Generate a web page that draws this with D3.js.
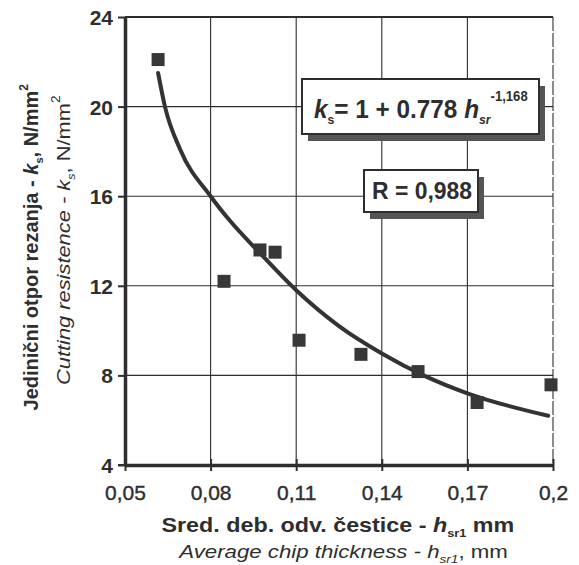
<!DOCTYPE html>
<html>
<head>
<meta charset="utf-8">
<script src="https://cdn.jsdelivr.net/npm/d3@7"></script>
<style>
  body { margin: 0; background: #fff; }
  text { font-family: "Liberation Sans Narrow", "Arial Narrow", "Liberation Sans", sans-serif; fill: #2e2e2e; }
</style>
</head>
<body>
<div class="chart"></div>
<script>
// measured points
let hValues = [0.0616, 0.0847, 0.0973, 0.1026, 0.111, 0.1327, 0.1527, 0.1734, 0.1993]
let ksValues = [22.1, 12.2, 13.6, 13.5, 9.57, 8.94, 8.17, 6.79, 7.58]

// fitted curve as drawn
let curveH = [0.0616, 0.064, 0.0693, 0.08, 0.0868, 0.097, 0.11, 0.125, 0.14, 0.155, 0.17, 0.1983]
let curveKs = [21.5, 20.0, 18.1, 16.0, 14.9, 13.5, 11.8, 10.2, 8.98, 7.98, 7.2, 6.2]

let xTicks = [0.05, 0.08, 0.11, 0.14, 0.17, 0.2]
let xTickLabels = ["0,05", "0,08", "0,11", "0,14", "0,17", "0,2"]
let yTicks = [4, 8, 12, 16, 20, 24]

let width = 579
let height = 565
let ink = "#2e2e2e"

let svg = d3.select(".chart")
  .append("svg")
  .attr("width", width)
  .attr("height", height)

let x = d3.scaleLinear().domain([0.05, 0.2]).range([125, 553])
let y = d3.scaleLinear().domain([4, 24]).range([465, 17])

// squeeze a text to a given width around a baseline midpoint
let fitText = (sel, cx, cy, w, rot) => {
  let bb = sel.node().getBBox()
  let k = w / bb.width
  sel.attr("transform",
    `translate(${cx},${cy}) rotate(${rot}) scale(${k},1) translate(${-(bb.x + bb.width / 2)},0)`)
}

// grid
svg.append("g")
  .selectAll("line")
  .data(yTicks.slice(1))
  .enter()
  .append("line")
  .attr("x1", x(0.05)).attr("x2", x(0.2))
  .attr("y1", d => y(d)).attr("y2", d => y(d))
  .attr("stroke", ink).attr("stroke-width", d => d === 24 ? 2 : 1.1)

svg.append("g")
  .selectAll("line")
  .data(xTicks.slice(1))
  .enter()
  .append("line")
  .attr("x1", d => x(d)).attr("x2", d => x(d))
  .attr("y1", y(24)).attr("y2", y(4))
  .attr("stroke", ink).attr("stroke-width", 1.1)
  .attr("stroke-dasharray", d => d === 0.2 ? "14,2" : null)

// axes
let yAxis = svg.append("g")
  .attr("transform", `translate(${x(0.05)},0)`)
  .call(d3.axisLeft(y).tickValues(yTicks).tickSize(7).tickSizeOuter(0).tickPadding(5))
yAxis.select(".domain").attr("stroke", ink).attr("stroke-width", 3.5)
yAxis.selectAll(".tick line").attr("stroke", ink).attr("stroke-width", 2)
yAxis.selectAll(".tick text")
  .attr("font-size", 21).attr("font-weight", "bold").attr("fill", ink)
  .attr("dy", "0.36em")

let xAxis = svg.append("g")
  .attr("transform", `translate(0,${y(4)})`)
  .call(d3.axisBottom(x).tickValues(xTicks).tickFormat((d, i) => xTickLabels[i])
    .tickSize(6).tickSizeOuter(0).tickPadding(14))
xAxis.select(".domain").attr("stroke", ink).attr("stroke-width", 3.5)
xAxis.selectAll(".tick line").attr("stroke", ink).attr("stroke-width", 2)
  .attr("y1", -6)
xAxis.selectAll(".tick text")
  .attr("font-size", 21).attr("fill", ink)
  .attr("stroke", ink).attr("stroke-width", 0.4)

// left axis line overhang
svg.append("line")
  .attr("x1", x(0.05) - 7).attr("x2", x(0.05))
  .attr("y1", y(4)).attr("y2", y(4))
  .attr("stroke", ink).attr("stroke-width", 2)

// fitted curve
let line = d3.line()
  .x((d, i) => x(curveH[i]))
  .y(d => y(d))
  .curve(d3.curveMonotoneX)

svg.append("path")
  .datum(curveKs)
  .attr("d", line)
  .attr("fill", "none")
  .attr("stroke", "#333")
  .attr("stroke-width", 4)
  .attr("stroke-linecap", "round")

// points
svg.append("g")
  .selectAll("rect")
  .data(ksValues)
  .enter()
  .append("rect")
  .attr("x", (d, i) => x(hValues[i]) - 6.5)
  .attr("y", d => y(d) - 6.5)
  .attr("width", 13)
  .attr("height", 13)
  .attr("fill", "#383838")

// boxes with shadow
let box = (x0, y0, w, h) => {
  svg.append("rect")
    .attr("x", x0 + 6).attr("y", y0 + 7).attr("width", w).attr("height", h)
    .attr("fill", "#555")
  svg.append("rect")
    .attr("x", x0).attr("y", y0).attr("width", w).attr("height", h)
    .attr("fill", "#fff").attr("stroke", ink).attr("stroke-width", 2)
}
box(302, 79, 237, 55)
box(364, 170, 114, 42)

let eq = svg.append("text")
  .attr("font-size", 26).attr("font-weight", "bold")
eq.append("tspan").attr("font-style", "italic").text("k")
eq.append("tspan").attr("font-size", 13).attr("dy", 6).text("s")
eq.append("tspan").attr("dy", -6).text("= 1 + 0.778 ")
eq.append("tspan").attr("font-style", "italic").text("h")
eq.append("tspan").attr("font-size", 13).attr("dy", 6).attr("font-style", "italic").text("sr")
eq.append("tspan").attr("font-size", 14).attr("dy", -23).text("-1,168")
fitText(eq, 421, 118, 214, 0)

let rText = svg.append("text")
  .attr("font-size", 24).attr("font-weight", "bold")
  .text("R = 0,988")
fitText(rText, 422, 199, 100, 0)

// y axis title
let yTitle1 = svg.append("text")
  .attr("font-size", 20).attr("font-weight", "bold")
yTitle1.append("tspan").text("Jedinični otpor rezanja - ")
yTitle1.append("tspan").attr("font-style", "italic").text("k")
yTitle1.append("tspan").attr("font-size", 11).attr("dy", 5).text("s")
yTitle1.append("tspan").attr("dy", -5).text(", N/mm")
yTitle1.append("tspan").attr("font-size", 12).attr("dy", -10).text("2")
fitText(yTitle1, 38, 247, 327, -90)

let yTitle2 = svg.append("text")
  .attr("font-size", 19)
yTitle2.append("tspan").attr("font-style", "italic").text("Cutting resistence - k")
yTitle2.append("tspan").attr("font-size", 11).attr("dy", 5).attr("font-style", "italic").text("s")
yTitle2.append("tspan").attr("dy", -5).text(", N/mm")
yTitle2.append("tspan").attr("font-size", 12).attr("dy", -10).text("2")
fitText(yTitle2, 70, 240, 290, -90)

// x axis title
let xTitle1 = svg.append("text")
  .attr("font-size", 20).attr("font-weight", "bold")
xTitle1.append("tspan").text("Sred. deb. odv. čestice - ")
xTitle1.append("tspan").attr("font-style", "italic").text("h")
xTitle1.append("tspan").attr("font-size", 11).attr("dy", 5).text("sr1")
xTitle1.append("tspan").attr("dy", -5).text(" mm")
fitText(xTitle1, 338, 532, 353, 0)

let xTitle2 = svg.append("text")
  .attr("font-size", 18)
xTitle2.append("tspan").attr("font-style", "italic").text("Average chip thickness - h")
xTitle2.append("tspan").attr("font-size", 11).attr("dy", 5).attr("font-style", "italic").text("sr1")
xTitle2.append("tspan").attr("dy", -5).text(", mm")
fitText(xTitle2, 343, 558, 330, 0)
</script>
</body>
</html>
